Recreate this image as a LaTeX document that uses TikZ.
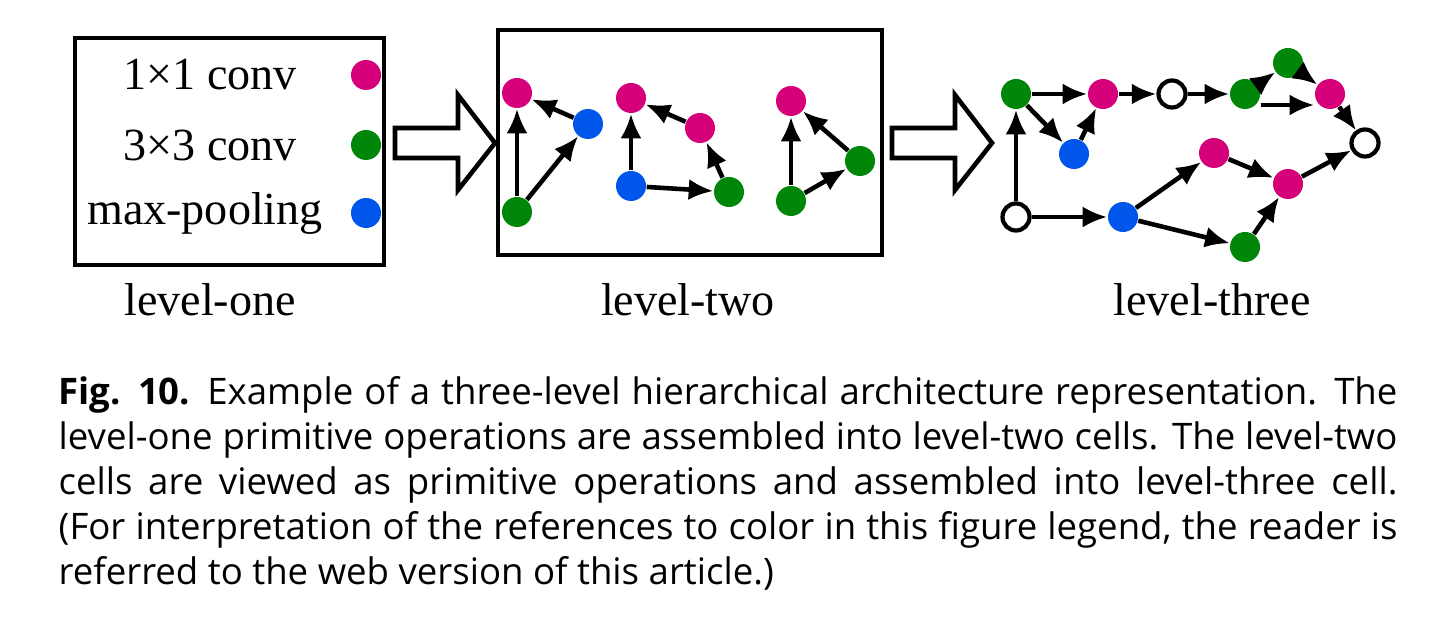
\documentclass[tikz,border=0pt]{standalone}
\usepackage{fontspec}
\setmainfont{Liberation Serif}
\newfontfamily\capfont{Open Sans}
\usetikzlibrary{arrows.meta}
\definecolor{pk}{RGB}{214,0,122}
\definecolor{gr}{RGB}{0,135,10}
\definecolor{bl}{RGB}{0,85,235}
\begin{document}
\begin{tikzpicture}[x=0.01cm,y=-0.01cm,
 n/.style={circle,inner sep=0,minimum size=0.3cm,draw=none},
 p/.style={n,fill=pk}, g/.style={n,fill=gr}, b/.style={n,fill=bl},
 w/.style={circle,inner sep=0,minimum size=0.27cm,draw,line width=1.2pt,fill=white},
 e/.style={-{Latex[length=7pt,width=6pt]},line width=1.3pt},
 box/.style={draw,line width=1.3pt},
 big/.style={draw,line width=1.3pt},
 lab/.style={font=\fontsize{13.1pt}{15pt}\selectfont}]
\useasboundingbox (0,0) rectangle (1437,628);
% level one
\draw[box] (75,38) rectangle (384,265);
\node[lab] (t1) at (210,75) {1×1 conv};
\node[lab] (t2) at (210,145) {3×3 conv};
\node[lab] (t3) at (205,213) {max-pooling};
\node[p] (l1) at (366,75) {};
\node[g] (l2) at (366,145) {};
\node[b] (l3) at (366,213) {};
\node[lab] at (210,300) {level-one};
% big arrows
\draw[big] (395,128) -- (458,128) -- (458,95) -- (495,143) -- (458,190) -- (458,158) -- (395,158) -- cycle;
\draw[big] (892,128) -- (955,128) -- (955,95) -- (992,143) -- (955,190) -- (955,158) -- (892,158) -- cycle;
% level two
\draw[box] (498,30) rectangle (882,255);
\node[p] (a1) at (517,93) {};
\node[b] (a2) at (588,124) {};
\node[g] (a3) at (517,212) {};
\draw[e] (a3) -- (a1); \draw[e] (a3) -- (a2); \draw[e] (a2) -- (a1);
\node[p] (b1) at (631,98) {};
\node[p] (b2) at (700,128) {};
\node[b] (b3) at (631,186) {};
\node[g] (b4) at (729,192) {};
\draw[e] (b3) -- (b1); \draw[e] (b3) -- (b4); \draw[e] (b4) -- (b2); \draw[e] (b2) -- (b1);
\node[p] (c1) at (791,101) {};
\node[g] (c2) at (860,161) {};
\node[g] (c3) at (791,201) {};
\draw[e] (c3) -- (c1); \draw[e] (c3) -- (c2); \draw[e] (c2) -- (c1);
\node[lab] at (688,300) {level-two};
% level three
\node[g] (A) at (1016,94) {};
\node[p] (B) at (1103,94) {};
\node[w] (C) at (1172,94) {};
\node[g] (D) at (1245,94) {};
\node[g] (E) at (1288,63) {};
\node[p] (F) at (1330,94) {};
\node[w] (G) at (1365,143) {};
\node[b] (H) at (1074,154) {};
\node[w] (S) at (1016,217) {};
\node[b] (I) at (1123,217) {};
\node[p] (J) at (1214,153) {};
\node[p] (K) at (1288,184) {};
\node[g] (L) at (1245,247) {};
\draw[e] (S) -- (A); \draw[e] (A) -- (B); \draw[e] (A) -- (H); \draw[e] (H) -- (B);
\draw[e] (B) -- (C); \draw[e] (C) -- (D); \draw[e] (D) -- (E); \draw[e] (E) -- (F);
\draw[e] ([yshift=-0.11cm]D.east) -- ([yshift=-0.11cm]D.east -| F.west);
\draw[e] (F) -- (G);
\draw[e] (S) -- (I); \draw[e] (I) -- (J); \draw[e] (I) -- (L); \draw[e] (J) -- (K);
\draw[e] (L) -- (K); \draw[e] (K) -- (G);
\node[lab] at (1212,300) {level-three};
% caption
\node[anchor=north west,inner sep=0,text width=13.38cm,align=justify,
 font=\capfont\fontsize{10.4pt}{12.75pt}\selectfont] (cap) at (58,376)
 {\hyphenpenalty=10000 \textbf{Fig. 10.} Example of a three-level hierarchical architecture representation. The\linebreak level-one primitive operations are assembled into level-two cells. The level-two\linebreak cells are viewed as primitive operations and assembled into level-three cell.\linebreak (For interpretation of the references to color in this figure legend, the reader is\linebreak referred to the web version of this article.)};
\end{tikzpicture}
\end{document}
